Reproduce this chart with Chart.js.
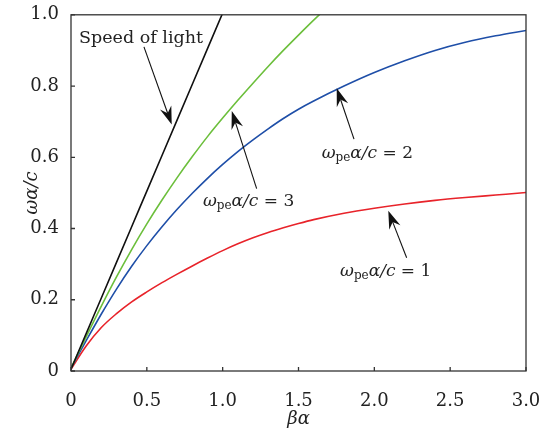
<!DOCTYPE html>
<html>
<head>
<meta charset="utf-8">
<script src="https://cdn.jsdelivr.net/npm/chart.js@4.4.0/dist/chart.umd.min.js"></script>
<style>
  html, body { margin: 0; padding: 0; background: #fff; }
  #wrap { width: 555px; height: 430px; }
</style>
</head>
<body>
<div id="wrap"><canvas id="chart" width="555" height="430"></canvas></div>
<script>
// valeurs (βα en abscisse, ωα/c en ordonnée)
const beta  = [0, 0.1, 0.2, 0.3, 0.4, 0.5, 0.6, 0.7, 0.8, 0.9, 1.0, 1.1, 1.2, 1.3, 1.4, 1.5, 1.6, 1.8, 2.0, 2.2, 2.4, 2.6, 2.8, 3.0];
const light = [0.005, 0.105, 0.205, 0.305, 0.405, 0.505, 0.605, 0.705, 0.805, 0.905, 1.005, 1.105, null, null, null, null, null, null, null, null, null, null, null, null];
const wpe3  = [0.008, 0.096, 0.182, 0.264, 0.341, 0.413, 0.48, 0.543, 0.602, 0.658, 0.71, 0.76, 0.808, 0.855, 0.9, 0.943, 0.985, 1.065, null, null, null, null, null, null];
const wpe2  = [0.008, 0.085, 0.16, 0.23, 0.294, 0.352, 0.405, 0.454, 0.499, 0.541, 0.58, 0.616, 0.649, 0.68, 0.709, 0.735, 0.758, 0.8, 0.838, 0.871, 0.9, 0.923, 0.941, 0.956];
const wpe1  = [0.005, 0.07, 0.122, 0.161, 0.194, 0.222, 0.248, 0.272, 0.295, 0.317, 0.338, 0.357, 0.374, 0.389, 0.402, 0.414, 0.425, 0.443, 0.457, 0.469, 0.479, 0.487, 0.494, 0.501];
const xTicks = [0, 0.5, 1.0, 1.5, 2.0, 2.5, 3.0];
const yTicks = [0, 0.2, 0.4, 0.6, 0.8, 1.0];

const SERIF = '"DejaVu Serif", "Liberation Serif", serif';

const pts = ys => beta.map((b, i) => ({ x: b, y: ys[i] }));
const lbl = v => (v === 0 ? '0' : v.toFixed(1));

// annotations : texte + flèche (coordonnées en unités des axes)
const notes = [
  { kind: 'plain', text: 'Speed of light', at: [0.053, 0.922], tail: [0.481, 0.91], tip: [0.664, 0.692] },
  { kind: 'wpe', value: '3', at: [0.87, 0.464], tail: [1.224, 0.512], tip: [1.06, 0.73] },
  { kind: 'wpe', value: '2', at: [1.653, 0.597], tail: [1.866, 0.651], tip: [1.752, 0.794] },
  { kind: 'wpe', value: '1', at: [1.774, 0.267], tail: [2.213, 0.318], tip: [2.092, 0.45] }
];

function arrow(ctx, x0, y0, x1, y1) {
  const dx = x1 - x0, dy = y1 - y0;
  const len = Math.hypot(dx, dy);
  const ux = dx / len, uy = dy / len;
  const nx = -uy, ny = ux;
  const L = 18, W = 6, notch = 6;
  ctx.save();
  ctx.strokeStyle = '#111';
  ctx.fillStyle = '#111';
  ctx.lineWidth = 1.1;
  ctx.beginPath();
  ctx.moveTo(x0, y0);
  ctx.lineTo(x1 - (L - notch) * ux, y1 - (L - notch) * uy);
  ctx.stroke();
  ctx.beginPath();
  ctx.moveTo(x1, y1);
  ctx.lineTo(x1 - L * ux + W * nx, y1 - L * uy + W * ny);
  ctx.lineTo(x1 - (L - notch) * ux, y1 - (L - notch) * uy);
  ctx.lineTo(x1 - L * ux - W * nx, y1 - L * uy - W * ny);
  ctx.closePath();
  ctx.fill();
  ctx.restore();
}

// ω_pe α / c = n
function wpeLabel(ctx, x, y, n) {
  const parts = [
    { t: 'ω', f: 'italic 17px ' + SERIF, dy: 0 },
    { t: 'pe', f: '12px ' + SERIF, dy: 3 },
    { t: 'α/c', f: 'italic 17px ' + SERIF, dy: 0 },
    { t: ' = ' + n, f: '17px ' + SERIF, dy: 0 }
  ];
  let cx = x;
  parts.forEach(p => {
    ctx.font = p.f;
    ctx.fillText(p.t, cx, y + p.dy);
    cx += ctx.measureText(p.t).width;
  });
}

const framePlugin = {
  id: 'frame',
  afterDraw(chart) {
    const { ctx, chartArea: a, scales } = chart;
    const xs = scales.x, ys = scales.y;
    ctx.save();
    ctx.strokeStyle = '#333';
    ctx.lineWidth = 1.3;
    ctx.strokeRect(a.left, a.top, a.right - a.left, a.bottom - a.top);
    // petites graduations vers l'intérieur
    ctx.beginPath();
    xTicks.forEach(v => {
      const px = xs.getPixelForValue(v);
      ctx.moveTo(px, a.bottom);
      ctx.lineTo(px, a.bottom - 4);
    });
    yTicks.forEach(v => {
      const py = ys.getPixelForValue(v);
      ctx.moveTo(a.left, py);
      ctx.lineTo(a.left + 4, py);
    });
    ctx.stroke();

    ctx.fillStyle = '#222';
    ctx.textBaseline = 'alphabetic';
    ctx.textAlign = 'left';
    notes.forEach(n => {
      const tx = xs.getPixelForValue(n.at[0]), ty = ys.getPixelForValue(n.at[1]);
      if (n.kind === 'plain') {
        ctx.font = '17.5px ' + SERIF;
        ctx.fillText(n.text, tx, ty);
      } else {
        wpeLabel(ctx, tx, ty, n.value);
      }
      arrow(ctx,
        xs.getPixelForValue(n.tail[0]), ys.getPixelForValue(n.tail[1]),
        xs.getPixelForValue(n.tip[0]), ys.getPixelForValue(n.tip[1]));
    });
    ctx.restore();
  }
};

const lineStyle = color => ({
  borderColor: color,
  backgroundColor: color,
  borderWidth: 1.6,
  pointRadius: 0,
  cubicInterpolationMode: 'monotone',
  fill: false,
  spanGaps: false
});

new Chart(document.getElementById('chart'), {
  type: 'line',
  data: {
    datasets: [
      { label: 'Speed of light', data: pts(light), ...lineStyle('#111111') },
      { label: 'wpe=3', data: pts(wpe3), ...lineStyle('#6cbf3c') },
      { label: 'wpe=2', data: pts(wpe2), ...lineStyle('#1f4fa8') },
      { label: 'wpe=1', data: pts(wpe1), ...lineStyle('#e8232a') }
    ]
  },
  options: {
    responsive: false,
    animation: false,
    devicePixelRatio: 1,
    layout: { padding: { top: 11, right: 29, left: 0, bottom: 0 } },
    plugins: { legend: { display: false }, tooltip: { enabled: false } },
    scales: {
      x: {
        type: 'linear', min: 0, max: 3,
        afterBuildTicks: s => { s.ticks = xTicks.map(v => ({ value: v })); },
        afterFit: s => { s.height = 59; },
        grid: { display: false },
        border: { display: false },
        ticks: { callback: lbl, padding: 12, color: '#222', maxRotation: 0, font: { family: SERIF, size: 18 } },
        title: { display: true, text: 'βα', color: '#222', padding: { top: 0, bottom: 0 }, font: { family: SERIF, size: 18, style: 'italic' } }
      },
      y: {
        type: 'linear', min: 0, max: 1,
        afterBuildTicks: s => { s.ticks = yTicks.map(v => ({ value: v })); },
        afterFit: s => { s.width = 71; },
        grid: { display: false },
        border: { display: false },
        ticks: { callback: lbl, padding: 4, color: '#222', font: { family: SERIF, size: 18 } },
        title: { display: true, text: 'ωα/c', color: '#222', padding: { top: 22, bottom: 0 }, font: { family: SERIF, size: 18, style: 'italic' } }
      }
    }
  },
  plugins: [framePlugin]
});
</script>
</body>
</html>
